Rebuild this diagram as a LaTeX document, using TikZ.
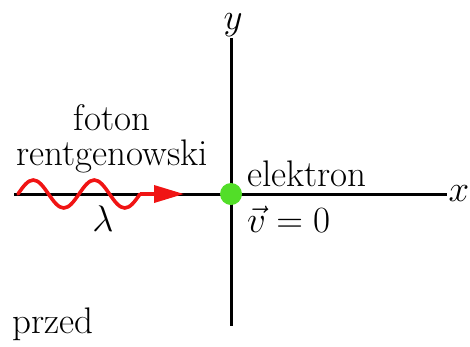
\RequirePackage{fix-cm}
\documentclass[tikz,border=0pt]{standalone}
\usetikzlibrary{arrows.meta}
\definecolor{dotgreen}{RGB}{82,222,40}
\definecolor{wavered}{RGB}{240,20,20}
\begin{document}
\begin{tikzpicture}[x=1pt,y=-1pt,
  lbl/.style={font=\fontsize{37}{42}\selectfont, inner sep=0pt},
  axis/.style={line width=3pt, black}]
\useasboundingbox (0,0) rectangle (470,346);
% axes
\coordinate (xl) at (14,194);
\coordinate (xr) at (447,194);
\coordinate (yt) at (231,38);
\coordinate (yb) at (231,326);
\draw[axis] (xl) -- (xr);
\draw[axis] (yt) -- (yb);
\node[lbl, anchor=base] (xlab) at (459,201) {$x$};
\node[lbl, anchor=base] (ylab) at (233,29) {$y$};
% wave
\coordinate (w0) at (18,194);
\coordinate (w1) at (140,194);
\coordinate (tip) at (184,194);
\draw[wavered, line width=3.6pt, line cap=round]
  (w0) sin (33.25,180) cos (48.5,194) sin (63.75,208) cos (79,194)
  sin (94.25,180) cos (109.5,194) sin (124.75,208) cos (w1);
\draw[wavered, line width=3.6pt, -{Triangle[length=30pt,width=17pt]}] (w1) -- (tip);
% electron
\node[circle, fill=dotgreen, minimum size=22pt, inner sep=0pt] (e) at (231,194) {};
% labels
\node[lbl, anchor=base] (foton) at (112,130) {foton};
\node[lbl, anchor=base] (rtg) at (112,165) {rentgenowski};
\node[lbl, anchor=base] (lam) at (103,231) {$\lambda$};
\node[lbl, anchor=base west] (el) at (247,186) {elektron};
\node[lbl, anchor=base west] (v) at (247,232) {$\vec{v}=0$};
\node[lbl, anchor=base west] (przed) at (12,333) {przed};
\end{tikzpicture}
\end{document}
